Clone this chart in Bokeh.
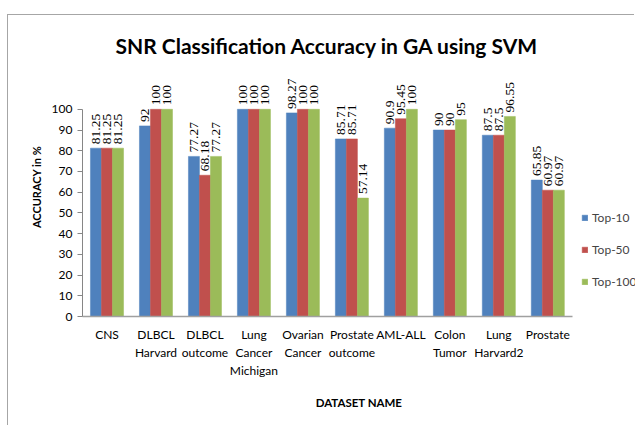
from math import pi
from bokeh.plotting import figure
from bokeh.models import ColumnDataSource, Range1d, LabelSet, Legend, LegendItem, FixedTicker
from bokeh.transform import dodge
from bokeh.embed import file_html
from bokeh.resources import INLINE

categories = ["CNS", "DLBCL\nHarvard", "DLBCL\noutcome", "Lung\nCancer\nMichigan", "Ovarian\nCancer",
              "Prostate\noutcome", "AML-ALL", "Colon\nTumor", "Lung\nHarvard2", "Prostate"]
series_names = ["Top-10", "Top-50", "Top-100"]
top10 = [81.25, 92, 77.27, 100, 98.27, 85.71, 90.9, 90, 87.5, 65.85]
top50 = [81.25, 100, 68.18, 100, 100, 85.71, 95.45, 90, 87.5, 60.97]
top100 = [81.25, 100, 77.27, 100, 100, 57.14, 100, 95, 96.55, 60.97]
y_ticks = list(range(0, 101, 10))
colors = ["#4F81BD", "#C0504D", "#9BBB59"]

def fmt(v):
    return f"{v:g}"

idx = list(range(len(categories)))
src = ColumnDataSource(dict(
    x=idx,
    t10=top10, t50=top50, t100=top100,
    l10=[fmt(v) for v in top10], l50=[fmt(v) for v in top50], l100=[fmt(v) for v in top100],
))

n = len(categories)
p = figure(width=627, height=411, output_backend="svg", toolbar_location=None,
           x_range=Range1d(-0.5, n + 0.79), y_range=Range1d(0, 125),
           min_border_left=74, min_border_right=0, min_border_top=42, min_border_bottom=110)
p.styles = {"border-left": "1px solid #a6a6a6", "border-top": "1px solid #a6a6a6",
            "margin-top": "14px", "margin-left": "7px"}

p.title.text = "SNR Classification Accuracy in GA using SVM"
p.title.align = "left"
p.title.text_font = "Lato"
p.title.text_font_size = "21px"
p.title.text_color = "#000000"
p.title.offset = 33
p.title.standoff = 0

offsets = [-0.225, 0.0, 0.225]
fields = ["t10", "t50", "t100"]
lfields = ["l10", "l50", "l100"]
items = []
for i in range(3):
    r = p.vbar(x=dodge("x", offsets[i]), top=fields[i], width=0.225,
               source=src, fill_color=colors[i], line_color=colors[i], line_width=0.5)
    items.append(LegendItem(label=series_names[i], renderers=[r]))
    lab = LabelSet(x=dodge("x", offsets[i]), y=fields[i], text=lfields[i],
                   source=src, angle=pi / 2, text_align="left", text_baseline="middle",
                   y_offset=4, text_font="DejaVu Sans", text_font_size="13.5px", text_color="#000000")
    p.add_layout(lab)

legend = Legend(items=items, location=(499, 25), orientation="vertical",
                glyph_width=7, glyph_height=7, spacing=13, label_height=19,
                label_text_font="Lato", label_text_font_size="12px", label_standoff=4,
                border_line_color=None, background_fill_alpha=0, padding=0, margin=0)
p.add_layout(legend, "center")

p.xgrid.grid_line_color = None
p.ygrid.grid_line_color = None
p.outline_line_color = None

p.yaxis.ticker = FixedTicker(ticks=y_ticks)
p.yaxis.bounds = (0, 100)
p.yaxis.axis_line_color = "#868686"
p.yaxis.major_tick_line_color = "#868686"
p.yaxis.major_tick_out = 5
p.yaxis.major_tick_in = 0
p.yaxis.minor_tick_line_color = None
p.yaxis.major_label_text_font = "Lato"
p.yaxis.major_label_text_font_size = "12px"
p.yaxis.major_label_text_color = "#000000"
p.yaxis.axis_label = "ACCURACY in %"
p.yaxis.axis_label_text_font = "Lato"
p.yaxis.axis_label_text_font_style = "bold"
p.yaxis.axis_label_text_font_size = "11px"
p.yaxis.axis_label_text_color = "#000000"
p.yaxis.axis_label_standoff = 6

p.xaxis.ticker = FixedTicker(ticks=idx)
p.xaxis.major_label_overrides = {i: c for i, c in zip(idx, categories)}
p.xaxis.bounds = (-0.5, n - 0.5)
p.xaxis.axis_line_color = "#A0A0A0"
p.xaxis.axis_line_width = 1.5
p.xaxis.major_tick_line_color = None
p.xaxis.minor_tick_line_color = None
p.xaxis.major_label_orientation = "horizontal"
p.xaxis.major_label_text_font = "Lato"
p.xaxis.major_label_text_font_size = "12px"
p.xaxis.major_label_text_color = "#000000"
p.xaxis.major_label_text_line_height = 1.2
p.xaxis.major_label_standoff = 4
p.xaxis.axis_label = "DATASET NAME"
p.xaxis.axis_label_text_font = "Lato"
p.xaxis.axis_label_text_font_style = "bold"
p.xaxis.axis_label_text_font_size = "11.5px"
p.xaxis.axis_label_text_color = "#000000"
p.xaxis.axis_label_standoff = 15

open("out.html", "w").write(file_html(p, INLINE))
